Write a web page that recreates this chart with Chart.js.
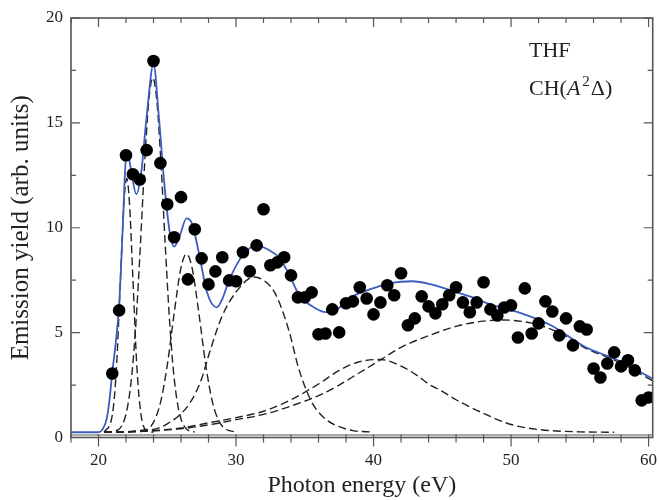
<!DOCTYPE html>
<html>
<head>
<meta charset="utf-8">
<script src="https://cdn.jsdelivr.net/npm/chart.js@4/dist/chart.umd.min.js"></script>
<style>
  body { margin: 0; background: #fff; }
  canvas { display: block; }
</style>
</head>
<body>
<canvas id="emissionChart" width="659" height="500"></canvas>
<script>
// measured points (photon energy in eV, yield in arb. units)
const pointEnergy = [21, 21.5, 22, 22.5, 23, 23.5, 24, 24.5, 25, 25.5, 26, 26.5, 27, 27.5, 28, 28.5, 29, 29.5, 30, 30.5,
    31, 31.5, 32, 32.5, 33, 33.5, 34, 34.5, 35, 35.5, 36, 36.5, 37, 37.5, 38, 38.5, 39, 39.5, 40, 40.5,
    41, 41.5, 42, 42.5, 43, 43.5, 44, 44.5, 45, 45.5, 46, 46.5, 47, 47.5, 48, 48.5, 49, 49.5, 50, 50.5,
    51, 51.5, 52, 52.5, 53, 53.5, 54, 54.5, 55, 55.5, 56, 56.5, 57, 57.5, 58, 58.5, 59, 59.5, 60];
const pointYield = [3.05, 6.06, 13.46, 12.55, 12.3, 13.7, 17.95, 13.08, 11.12, 9.55, 11.46, 7.54, 9.93, 8.54, 7.3, 7.92, 8.59, 7.49, 7.45, 8.83,
    7.92, 9.16, 10.88, 8.21, 8.35, 8.59, 7.73, 6.68, 6.68, 6.92, 4.92, 4.96, 6.11, 5.01, 6.4, 6.49, 7.16, 6.63, 5.87, 6.44,
    7.26, 6.78, 7.83, 5.35, 5.68, 6.73, 6.25, 5.92, 6.35, 6.78, 7.16, 6.44, 5.97, 6.44, 7.4, 6.11, 5.82, 6.2, 6.3, 4.77,
    7.11, 4.96, 5.44, 6.49, 6.01, 4.87, 5.68, 4.39, 5.3, 5.15, 3.29, 2.86, 3.53, 4.06, 3.39, 3.68, 3.2, 1.77, 1.91];

// total fit (blue)
const fitEnergy = [18, 20, 20.3, 20.6, 20.8, 21.0, 21.25, 21.5, 21.75, 22.0, 22.15, 22.4, 22.75, 23.1, 23.5, 24.0, 24.4, 24.8, 25.2, 25.5,
    25.9, 26.4, 26.8, 27.3, 27.9, 28.6, 29.0, 29.5, 30.5, 31.5, 32.4, 33.1, 33.8, 34.6, 35.8, 36.5, 37.2, 38.4, 39.9, 41.3,
    42.8, 44.2, 45.7, 47.1, 48.5, 50.5, 52.9, 55.3, 57.8, 60.3];
const fitYield = [0.25, 0.25, 0.4, 0.9, 1.8, 3.1, 4.5, 6.3, 9.8, 13.3, 13.45, 12.6, 11.6, 12.6, 15.3, 17.8, 15.2, 12.0, 9.7, 9.1,
    9.6, 10.45, 10.2, 8.8, 6.9, 6.2, 6.6, 7.5, 8.7, 9.16, 8.93, 8.6, 7.85, 6.8, 6.15, 5.98, 6.05, 6.7, 7.1, 7.37,
    7.45, 7.3, 7.0, 6.7, 6.35, 5.98, 5.35, 4.35, 3.67, 2.8];

// fit components (dashed)
const comp1Energy = [20.4, 21.0, 21.3, 21.6, 21.85, 22.05, 22.25, 22.5, 22.8, 23.1, 23.5, 24.0];
const comp1Yield = [0.25, 1.05, 3.26, 7.6, 11.2, 12.35, 11.2, 7.6, 3.26, 1.05, 0.32, 0.25];
const comp2Energy = [20.4, 21.45, 21.85, 22.15, 22.45, 22.75, 23.05, 23.35, 23.65, 23.95, 24.25, 24.55, 24.85, 25.15, 25.45, 25.75, 26.05, 26.45, 27.0];
const comp2Yield = [0.25, 0.38, 0.79, 1.6, 3.16, 5.74, 9.22, 13.0, 16.0, 17.15, 16.0, 13.0, 9.22, 5.74, 3.16, 1.6, 0.79, 0.38, 0.26];
const comp3Energy = [20.4, 23.5, 24.0, 24.5, 25.0, 25.5, 26.0, 26.4, 26.8, 27.3, 27.8, 28.3, 28.8, 29.3, 30.0];
const comp3Yield = [0.25, 0.38, 0.73, 1.65, 3.44, 5.92, 8.1, 8.75, 8.1, 5.92, 3.44, 1.65, 0.73, 0.38, 0.27];
const comp4Energy = [20.4, 23.7, 25.0, 26.6, 27.5, 28.0, 29.0, 30.2, 31.3, 32.2, 32.9, 33.8, 34.6, 35.5, 36.3, 37.2, 38.5, 40.0];
const comp4Yield = [0.25, 0.35, 0.65, 1.6, 2.8, 3.9, 5.8, 7.1, 7.65, 7.4, 6.8, 5.2, 3.2, 1.7, 1.0, 0.6, 0.33, 0.26];
const comp5Energy = [20.4, 22, 26, 28, 30, 32, 34, 36, 37.5, 38.9, 40.5, 42, 43.3, 44, 45, 46, 48, 50, 52, 55, 57.5];
const comp5Yield = [0.25, 0.27, 0.45, 0.7, 0.95, 1.25, 1.8, 2.55, 3.2, 3.6, 3.72, 3.4, 2.9, 2.55, 2.2, 1.8, 1.15, 0.62, 0.38, 0.27, 0.25];
const comp6Energy = [20.4, 22, 26, 28, 30, 32, 34, 36, 37.5, 39, 40.5, 42, 44, 46, 48, 49.5, 51.5, 53.5, 55.3, 57.8, 60.3];
const comp6Yield = [0.25, 0.26, 0.42, 0.6, 0.85, 1.1, 1.5, 2.0, 2.5, 3.1, 3.7, 4.3, 4.85, 5.3, 5.55, 5.6, 5.45, 5.0, 4.3, 3.6, 2.7];

// tick positions
const xTickValues = [18, 20, 22, 24, 26, 28, 30, 32, 34, 36, 38, 40, 42, 44, 46, 48, 50, 52, 54, 56, 58, 60];
const yTickValues = [0, 2.5, 5, 7.5, 10, 12.5, 15, 17.5, 20];

const xy = (xs, ys) => xs.map((x, i) => ({ x: x, y: ys[i] }));
const serif = '"Liberation Serif", "Times New Roman", serif';

function dashed(xs, ys) {
    return {
        data: xy(xs, ys),
        borderColor: '#222',
        borderWidth: 1.4,
        borderDash: [8, 4],
        pointRadius: 0,
        fill: false,
        cubicInterpolationMode: 'monotone',
        order: 2
    };
}

// frame, inward ticks, baseline
const frameTicks = {
    id: 'frameTicks',
    afterDraw(chart) {
        const { ctx, chartArea: a, scales: { x, y } } = chart;
        ctx.save();
        ctx.strokeStyle = '#555';
        ctx.lineWidth = 1.2;
        const yb = y.getPixelForValue(0.12);
        ctx.beginPath();
        ctx.moveTo(a.left, yb);
        ctx.lineTo(a.right, yb);
        ctx.stroke();
        ctx.lineWidth = 1.6;
        ctx.strokeRect(a.left, a.top, a.right - a.left, a.bottom - a.top);
        ctx.lineWidth = 1.2;
        ctx.beginPath();
        x.ticks.forEach(t => {
            const px = x.getPixelForValue(t.value);
            const len = t.value % 10 === 0 ? 9 : 5;
            ctx.moveTo(px, a.bottom - 3);
            ctx.lineTo(px, a.bottom + len);
            ctx.moveTo(px, a.top);
            ctx.lineTo(px, a.top + len);
        });
        y.ticks.forEach(t => {
            const py = y.getPixelForValue(t.value);
            const len = t.value % 5 === 0 ? 9 : 5;
            ctx.moveTo(a.left, py);
            ctx.lineTo(a.left + len, py);
            ctx.moveTo(a.right, py);
            ctx.lineTo(a.right - len, py);
        });
        ctx.stroke();
        ctx.restore();
    }
};

// THF / CH(A2Δ) label
const speciesLabel = {
    id: 'speciesLabel',
    afterDraw(chart) {
        const ctx = chart.ctx;
        ctx.save();
        ctx.fillStyle = '#222';
        ctx.textBaseline = 'alphabetic';
        ctx.font = '22px ' + serif;
        let x0 = 529;
        ctx.fillText('THF', x0, 57);
        const base = 95;
        ctx.fillText('CH(', x0, base);
        x0 += ctx.measureText('CH(').width;
        ctx.font = 'italic 22px ' + serif;
        ctx.fillText('A', x0, base);
        x0 += ctx.measureText('A').width + 2;
        ctx.font = '15px ' + serif;
        ctx.fillText('2', x0, base - 9);
        x0 += ctx.measureText('2').width + 1;
        ctx.font = '22px ' + serif;
        ctx.fillText('\u0394)', x0, base);
        ctx.restore();
    }
};

new Chart(document.getElementById('emissionChart').getContext('2d'), {
    type: 'line',
    data: {
        datasets: [
            {
                data: xy(pointEnergy, pointYield),
                showLine: false,
                pointRadius: 6.3,
                pointBackgroundColor: '#000',
                pointBorderColor: '#000',
                pointBorderWidth: 0,
                order: 0
            },
            {
                data: xy(fitEnergy, fitYield),
                borderColor: '#3c5cbf',
                borderWidth: 1.8,
                pointRadius: 0,
                fill: false,
                cubicInterpolationMode: 'monotone',
                order: 1
            },
            dashed(comp1Energy, comp1Yield),
            dashed(comp2Energy, comp2Yield),
            dashed(comp3Energy, comp3Yield),
            dashed(comp4Energy, comp4Yield),
            dashed(comp5Energy, comp5Yield),
            dashed(comp6Energy, comp6Yield)
        ]
    },
    options: {
        responsive: false,
        animation: false,
        devicePixelRatio: 1,
        layout: { padding: { top: 18, right: 4, left: 0, bottom: 0 } },
        plugins: {
            legend: { display: false },
            tooltip: { enabled: false }
        },
        scales: {
            x: {
                type: 'linear',
                min: 18,
                max: 60.3,
                grid: { display: false, drawTicks: false },
                border: { display: false },
                afterBuildTicks: s => { s.ticks = xTickValues.map(v => ({ value: v })); },
                ticks: {
                    autoSkip: false,
                    maxRotation: 0,
                    padding: 13,
                    color: '#222',
                    font: { family: serif, size: 17 },
                    callback: v => (v % 10 === 0 ? v : '')
                },
                title: {
                    display: true,
                    text: 'Photon energy (eV)',
                    color: '#222',
                    font: { family: serif, size: 24 },
                    padding: { top: 4, bottom: 0 }
                },
                afterFit: s => {
                    s.height = 62.5;
                    s.paddingLeft = 0;
                    s.paddingRight = 0;
                }
            },
            y: {
                min: 0,
                max: 20,
                grid: { display: false, drawTicks: false },
                border: { display: false },
                afterBuildTicks: s => { s.ticks = yTickValues.map(v => ({ value: v })); },
                ticks: {
                    autoSkip: false,
                    padding: 8,
                    color: '#222',
                    font: { family: serif, size: 17 },
                    callback: v => (v % 5 === 0 ? v : '')
                },
                title: {
                    display: true,
                    text: 'Emission yield (arb. units)',
                    color: '#222',
                    font: { family: serif, size: 25 },
                    padding: { top: 6, bottom: 0 }
                },
                afterFit: s => {
                    s.width = 71;
                    s.paddingTop = 0;
                    s.paddingBottom = 0;
                }
            }
        }
    },
    plugins: [frameTicks, speciesLabel]
});
</script>
</body>
</html>
